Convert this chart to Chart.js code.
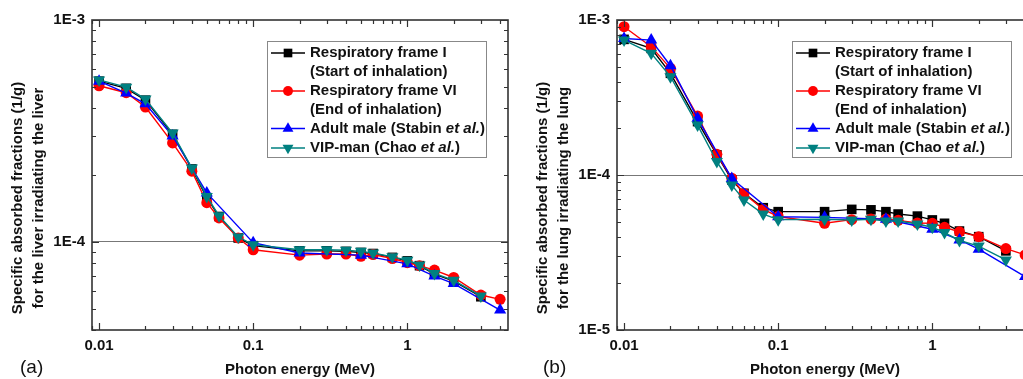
<!DOCTYPE html>
<html>
<head>
<meta charset="utf-8">
<script src="https://cdn.jsdelivr.net/npm/chart.js"></script>
<style>
  html, body { margin: 0; padding: 0; background: #fff; overflow: hidden; width: 1023px; height: 379px; }
  canvas { position: absolute; top: 0; }
  #liverChart { left: 0; }
  #lungChart { left: 510px; }
</style>
</head>
<body>
<canvas id="liverChart" width="515" height="379"></canvas>
<canvas id="lungChart" width="540" height="379"></canvas>
<script>
// photon energies (MeV)
var energy = [0.01, 0.015, 0.02, 0.03, 0.04, 0.05, 0.06, 0.08, 0.1, 0.2, 0.3, 0.4, 0.5, 0.6, 0.8, 1.0, 1.2, 1.5, 2, 3, 4];
var stabinEnergy = [0.01, 0.015, 0.02, 0.03, 0.05, 0.1, 0.2, 0.5, 1.0, 1.5, 2, 4];

// (a) liver irradiating the liver
var liverFrameI  = [5.30e-4, 4.92e-4, 4.35e-4, 3.05e-4, 2.13e-4, 1.58e-4, 1.30e-4, 1.04e-4, 9.6e-5, 9.1e-5, 9.1e-5, 9.05e-5, 8.95e-5, 8.85e-5, 8.5e-5, 8.2e-5, 7.8e-5, 7.15e-5, 6.65e-5, 5.65e-5];
var liverFrameVI = [5.05e-4, 4.70e-4, 4.05e-4, 2.79e-4, 2.08e-4, 1.50e-4, 1.28e-4, 1.04e-4, 9.2e-5, 8.7e-5, 8.8e-5, 8.8e-5, 8.6e-5, 8.75e-5, 8.4e-5, 8.05e-5, 7.8e-5, 7.45e-5, 6.9e-5, 5.75e-5, 5.5e-5];
var liverStabin  = [5.30e-4, 4.68e-4, 4.19e-4, 3.00e-4, 1.66e-4, 9.9e-5, 8.9e-5, 8.7e-5, 7.95e-5, 7.0e-5, 6.48e-5, 4.92e-5];
var liverVipMan  = [5.37e-4, 4.98e-4, 4.40e-4, 3.09e-4, 2.15e-4, 1.60e-4, 1.31e-4, 1.05e-4, 9.7e-5, 9.2e-5, 9.2e-5, 9.15e-5, 9.05e-5, 8.9e-5, 8.55e-5, 8.25e-5, 7.85e-5, 7.2e-5, 6.7e-5, 5.7e-5];

// (b) lung irradiating the lung
var lungFrameI  = [7.50e-4, 6.56e-4, 4.53e-4, 2.21e-4, 1.35e-4, 9.3e-5, 7.62e-5, 6.15e-5, 5.8e-5, 5.8e-5, 6.0e-5, 5.96e-5, 5.8e-5, 5.6e-5, 5.43e-5, 5.13e-5, 4.88e-5, 4.35e-5, 4.0e-5, 3.24e-5];
var lungFrameVI = [9.05e-4, 6.73e-4, 4.88e-4, 2.40e-4, 1.36e-4, 9.53e-5, 7.6e-5, 6.0e-5, 5.4e-5, 4.88e-5, 5.15e-5, 5.2e-5, 5.2e-5, 5.1e-5, 4.9e-5, 4.88e-5, 4.6e-5, 4.3e-5, 4.0e-5, 3.35e-5, 3.05e-5];
var lungStabin  = [7.60e-4, 7.42e-4, 5.07e-4, 2.32e-4, 9.5e-5, 5.38e-5, 5.33e-5, 5.18e-5, 4.47e-5, 3.81e-5, 3.32e-5, 2.21e-5];
var lungVipMan  = [7.42e-4, 6.10e-4, 4.31e-4, 2.10e-4, 1.22e-4, 8.61e-5, 6.9e-5, 5.6e-5, 5.15e-5, 5.18e-5, 5.13e-5, 5.18e-5, 5.05e-5, 5.05e-5, 4.83e-5, 4.6e-5, 4.25e-5, 3.78e-5, 3.48e-5, 2.83e-5];

var xTicks = [0.01, 0.1, 1];
var liverYTicks = [1e-4, 1e-3];
var lungYTicks = [1e-5, 1e-4, 1e-3];

var seriesNames = [
  [[['Respiratory frame I', false]], [['(Start of inhalation)', false]]],
  [[['Respiratory frame VI', false]], [['(End of inhalation)', false]]],
  [[['Adult male (Stabin ', false], ['et al.', true], [')', false]]],
  [[['VIP-man (Chao ', false], ['et al.', true], [')', false]]]
];
var seriesColors = ['#000000', '#ff0000', '#0000ff', '#008080'];
var seriesMarkers = ['rect', 'circle', 'triangle', 'triangle'];
var markerRadius = [6.8, 5.5, 7, 7];
var markerRotation = [0, 0, 0, 180];

var FONT = '"Liberation Sans", Arial, Helvetica, sans-serif';

function toPoints(xs, ys) {
  return ys.map(function(v, i) { return { x: xs[i], y: v }; });
}

function logSteps(min, max) {
  var out = [];
  for (var d = Math.floor(Math.log10(min)); d <= Math.ceil(Math.log10(max)); d++) {
    for (var k = 1; k <= 9; k++) {
      var v = k * Math.pow(10, d);
      if (v >= min * 0.9999 && v <= max * 1.0001) out.push({ v: v, major: k === 1 });
    }
  }
  return out;
}

function marker(ctx, style, x, y, r, rot) {
  ctx.beginPath();
  if (style === 'circle') {
    ctx.arc(x, y, r, 0, Math.PI * 2);
  } else if (style === 'rect') {
    var s = r * Math.SQRT1_2;
    ctx.rect(x - s, y - s, 2 * s, 2 * s);
  } else {
    var a = rot ? Math.PI : 0;
    for (var i = 0; i < 3; i++) {
      var px = x + Math.sin(a) * r, py = y - Math.cos(a) * r;
      if (i === 0) ctx.moveTo(px, py); else ctx.lineTo(px, py);
      a += Math.PI * 2 / 3;
    }
    ctx.closePath();
  }
  ctx.fill();
}

var framePlugin = {
  id: 'frame',
  afterDraw: function(chart, args, o) {
    var ctx = chart.ctx, a = chart.chartArea;
    var xs = chart.scales.x, ys = chart.scales.y;
    ctx.save();

    // inward tick marks on all four sides
    ctx.strokeStyle = '#333';
    ctx.lineWidth = 1.2;
    ctx.beginPath();
    logSteps(xs.min, xs.max).forEach(function(t) {
      var px = Math.round(xs.getPixelForValue(t.v)) + 0.5;
      var len = t.major ? 7 : 4;
      ctx.moveTo(px, a.bottom); ctx.lineTo(px, a.bottom - len);
      ctx.moveTo(px, a.top); ctx.lineTo(px, a.top + len);
    });
    logSteps(ys.min, ys.max).forEach(function(t) {
      var py = Math.round(ys.getPixelForValue(t.v)) + 0.5;
      var len = t.major ? 7 : 4;
      ctx.moveTo(a.left, py); ctx.lineTo(a.left + len, py);
      ctx.moveTo(a.right, py); ctx.lineTo(a.right - len, py);
    });
    ctx.stroke();

    // plot frame
    ctx.lineWidth = 1.6;
    ctx.strokeStyle = '#333';
    ctx.strokeRect(a.left, a.top, a.right - a.left, a.bottom - a.top);

    // legend
    var w = 219, h = 116;
    var lx = a.right - 22 - w, ly = a.top + 21;
    ctx.fillStyle = '#fff';
    ctx.fillRect(lx, ly, w, h);
    ctx.lineWidth = 1;
    ctx.strokeStyle = '#888';
    ctx.strokeRect(lx + 0.5, ly + 0.5, w, h);
    var rowY = [12, 31, 50, 68.5, 87.5, 107];
    var row = 0;
    ctx.textBaseline = 'middle';
    seriesNames.forEach(function(lines, si) {
      var cy = ly + rowY[row];
      ctx.strokeStyle = seriesColors[si];
      ctx.fillStyle = seriesColors[si];
      ctx.lineWidth = 1.4;
      ctx.beginPath();
      ctx.moveTo(lx + 4, cy); ctx.lineTo(lx + 38, cy);
      ctx.stroke();
      marker(ctx, seriesMarkers[si], lx + 21, cy, markerRadius[si] * 0.9, markerRotation[si]);
      lines.forEach(function(parts) {
        var tx = lx + 43, ty = ly + rowY[row];
        ctx.fillStyle = '#111';
        parts.forEach(function(p) {
          ctx.font = (p[1] ? 'italic ' : '') + 'bold 15px ' + FONT;
          ctx.fillText(p[0], tx, ty);
          tx += ctx.measureText(p[0]).width;
        });
        row++;
      });
    });

    // axis titles
    ctx.fillStyle = '#111';
    ctx.font = 'bold 15px ' + FONT;
    ctx.textAlign = 'center';
    ctx.fillText('Photon energy (MeV)', (a.left + a.right) / 2, 370);
    ctx.save();
    ctx.translate(a.left - 74, 198);
    ctx.rotate(-Math.PI / 2);
    ctx.fillText('Specific absorbed fractions (1/g)', 0, 0);
    ctx.fillText(o.title2, 0, 21);
    ctx.restore();

    // panel label
    ctx.textAlign = 'left';
    ctx.font = '19px ' + FONT;
    ctx.fillText(o.panel, o.panelX, 368);
    ctx.restore();
  }
};

function makeChart(id, series, yMin, yMax, yTicks, yWidth, padRight, title2, panel, panelX) {
  var datasets = series.map(function(s, i) {
    return {
      data: toPoints(i === 2 ? stabinEnergy : energy, s),
      borderColor: seriesColors[i],
      backgroundColor: seriesColors[i],
      pointBackgroundColor: seriesColors[i],
      pointBorderColor: seriesColors[i],
      pointBorderWidth: 0,
      pointStyle: seriesMarkers[i],
      pointRadius: markerRadius[i],
      pointRotation: markerRotation[i],
      borderWidth: 1.4,
      tension: 0,
      order: 3 - i
    };
  });
  var tickFont = { family: FONT, size: 15, weight: 'bold' };
  return new Chart(document.getElementById(id).getContext('2d'), {
    type: 'line',
    data: { datasets: datasets },
    options: {
      responsive: false,
      animation: false,
      layout: { padding: { left: 0, right: padRight, top: 20, bottom: 0 } },
      plugins: {
        legend: { display: false },
        tooltip: { enabled: false },
        frame: { title2: title2, panel: panel, panelX: panelX }
      },
      scales: {
        x: {
          type: 'logarithmic', min: 0.009, max: 4.5, bounds: 'data',
          afterBuildTicks: function(s) { s.ticks = xTicks.map(function(v) { return { value: v }; }); },
          afterFit: function(s) { s.height = 49; },
          grid: { display: false, drawTicks: false },
          border: { display: false },
          ticks: { autoSkip: false, maxRotation: 0, padding: 7, color: '#111', font: tickFont,
                   callback: function(v) { return String(v); } }
        },
        y: {
          type: 'logarithmic', min: yMin, max: yMax, bounds: 'data',
          afterBuildTicks: function(s) { s.ticks = yTicks.map(function(v) { return { value: v }; }); },
          afterFit: function(s) { s.width = yWidth; },
          grid: {
            drawTicks: false, lineWidth: 1,
            color: function(c) { return c.tick && Math.abs(c.tick.value - 1e-4) < 1e-9 ? '#777' : 'rgba(0,0,0,0)'; }
          },
          border: { display: false },
          ticks: { autoSkip: false, padding: 7, color: '#111', font: tickFont,
                   callback: function(v) { return '1E' + Math.round(Math.log10(v)); } }
        }
      }
    },
    plugins: [framePlugin]
  });
}

makeChart('liverChart', [liverFrameI, liverFrameVI, liverStabin, liverVipMan],
  4e-5, 1e-3, liverYTicks, 92, 5, 'for the liver irradiating the liver', '(a)', 20);
makeChart('lungChart', [lungFrameI, lungFrameVI, lungStabin, lungVipMan],
  1e-5, 1e-3, lungYTicks, 107, 17, 'for the lung irradiating the lung', '(b)', 33);
</script>
</body>
</html>
